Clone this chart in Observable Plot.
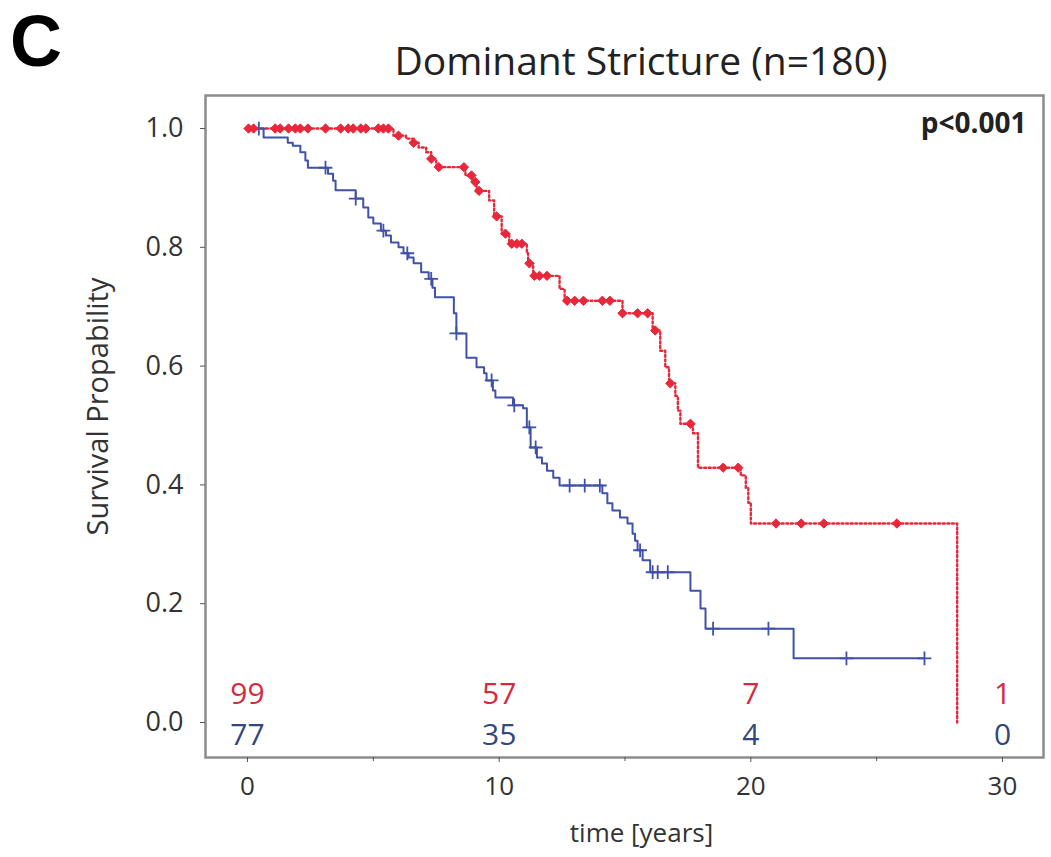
<!DOCTYPE html>
<html>
<head>
<meta charset="utf-8">
<script src="https://cdn.jsdelivr.net/npm/d3@7"></script>
<script src="https://cdn.jsdelivr.net/npm/@observablehq/plot@0.6"></script>
<style>
  html, body { margin: 0; padding: 0; background: #fff; }
  #wrap { width: 1051px; }
  #hdr { position: relative; height: 80px; width: 1051px; }
  #letter { position: absolute; left: 10px; top: 5px; font: bold 72px "Liberation Sans", Arial, sans-serif; line-height: 1; color: #000; }
  #title { position: absolute; left: 641px; top: 40px; transform: translateX(-50%); font: 39px "Open Sans", sans-serif; line-height: 1; color: #222; white-space: nowrap; }
  svg { display: block; }
</style>
</head>
<body>
<div id="wrap">
  <div id="hdr">
    <div id="letter">C</div>
    <div id="title">Dominant Stricture (n=180)</div>
  </div>
  <div id="chart"></div>
</div>
<script>
// Red group (dotted curve)
const redTime = [0, 5.8, 6.3, 6.6, 6.8, 7.1, 7.3, 7.5, 8.66, 8.95, 9.1, 9.6, 9.8, 10.1, 10.4, 11.1, 11.15, 11.35, 12.4, 12.6, 14.9, 16.1, 16.4, 16.6, 16.75, 17.0, 17.1, 17.2, 17.7, 17.9, 19.6, 19.8, 19.9, 20.0, 28.2];
const redSurv = [1.0, 0.988, 0.983, 0.976, 0.968, 0.96, 0.949, 0.935, 0.921, 0.91, 0.895, 0.879, 0.852, 0.823, 0.806, 0.79, 0.773, 0.752, 0.73, 0.71, 0.689, 0.66, 0.626, 0.598, 0.571, 0.55, 0.525, 0.503, 0.487, 0.429, 0.416, 0.395, 0.37, 0.335, 0.0];
const redCensor = [0.04, 0.24, 1.1, 1.3, 1.63, 1.9, 2.1, 2.4, 3.1, 3.7, 4.0, 4.2, 4.5, 4.7, 5.2, 5.4, 5.6, 6.0, 6.6, 7.3, 7.6, 8.6, 8.9, 9.05, 9.2, 9.9, 10.25, 10.5, 10.7, 10.9, 11.2, 11.4, 11.6, 11.9, 12.7, 13.0, 13.35, 14.1, 14.4, 14.9, 15.5, 15.9, 16.2, 16.8, 17.6, 18.9, 19.5, 21.0, 22.0, 22.9, 25.8];

// Blue group (solid curve)
const blueTime = [0, 0.64, 1.6, 1.8, 2.1, 2.3, 2.4, 3.2, 3.4, 3.5, 4.3, 4.6, 4.8, 5.0, 5.3, 5.5, 5.7, 6.0, 6.2, 6.4, 6.6, 6.9, 7.2, 7.35, 7.45, 8.2, 8.3, 8.7, 9.1, 9.4, 9.5, 9.75, 9.85, 10.55, 10.95, 11.1, 11.25, 11.5, 11.7, 11.9, 12.15, 12.4, 14.1, 14.3, 14.5, 14.8, 15.1, 15.3, 15.4, 15.5, 15.7, 16.0, 17.6, 18.0, 18.2, 21.7, 26.9];
const blueSurv = [1.0, 0.985, 0.976, 0.971, 0.96, 0.946, 0.934, 0.924, 0.912, 0.896, 0.882, 0.867, 0.85, 0.84, 0.828, 0.82, 0.808, 0.8, 0.79, 0.783, 0.773, 0.758, 0.747, 0.732, 0.716, 0.689, 0.655, 0.614, 0.598, 0.588, 0.576, 0.559, 0.547, 0.534, 0.529, 0.497, 0.463, 0.446, 0.436, 0.424, 0.412, 0.399, 0.386, 0.369, 0.357, 0.345, 0.335, 0.318, 0.306, 0.29, 0.273, 0.253, 0.222, 0.192, 0.158, 0.108, 0.108];
const blueCensor = [0.45, 3.1, 4.3, 5.4, 6.35, 7.3, 8.3, 9.7, 10.6, 11.2, 11.45, 12.8, 13.4, 14.0, 15.6, 16.1, 16.3, 16.7, 18.5, 20.7, 23.8, 26.9];

// Numbers at risk
const riskTimes = [0, 10, 20, 30];
const redRisk = [99, 57, 7, 1];
const blueRisk = [77, 35, 4, 0];

const xTicks = [0, 10, 20, 30];
const xMinorTicks = [5, 15, 25];
const yTicks = [0, 0.2, 0.4, 0.6, 0.8, 1.0];

const RED = "#e8283a", BLUE = "#3f51a8";
const RED_TXT = "#d42a3e", BLUE_TXT = "#34477a";

function stepAt(times, surv, t) {
  let v = surv[0];
  for (let i = 0; i < times.length; i++) if (times[i] <= t) v = surv[i];
  return v;
}

const redLine = redTime.map((t, i) => ({t, s: redSurv[i]}));
const blueLine = blueTime.map((t, i) => ({t, s: blueSurv[i]}));
const redMarks = redCensor.map(t => ({t, s: stepAt(redTime, redSurv, t)}));
const blueMarks = blueCensor.map(t => ({t, s: stepAt(blueTime, blueSurv, t)}));
const risk = riskTimes.flatMap((t, i) => [
  {t, v: redRisk[i], g: "red"},
  {t, v: blueRisk[i], g: "blue"}
]);

const font = "Open Sans, sans-serif";

const chart = Plot.plot({
  width: 1051,
  height: 777,
  marginTop: 15,
  marginBottom: 100,
  marginLeft: 205,
  marginRight: 8,
  style: {fontFamily: font, background: "#fff", color: "#333"},
  x: {domain: [-1.669, 31.63]},
  y: {domain: [-0.0589, 1.0556]},
  marks: [
    Plot.frame({stroke: "#8c8c8c", strokeWidth: 2.5}),
    Plot.axisX({ticks: xTicks, tickSize: 5, tickPadding: 14, fontSize: 26, label: null, stroke: "#555"}),
    Plot.axisX({ticks: xMinorTicks, tickSize: 4, tickFormat: () => "", label: null, stroke: "#555"}),
    Plot.axisY({ticks: yTicks, tickSize: 5, tickPadding: 17, fontSize: 27, tickFormat: d3.format(".1f"), label: null, stroke: "#555"}),
    Plot.line(blueLine, {x: "t", y: "s", curve: "step-after", stroke: BLUE, strokeWidth: 2}),
    Plot.line(redLine, {x: "t", y: "s", curve: "step-after", stroke: RED, strokeWidth: 2.4, strokeDasharray: "2,2.6"}),
    Plot.dot(blueMarks, {x: "t", y: "s", symbol: "plus", r: 4.5, stroke: BLUE, strokeWidth: 1.8}),
    Plot.dot(redMarks, {x: "t", y: "s", symbol: "diamond2", r: 4.2, fill: RED, stroke: RED, strokeWidth: 1}),
    Plot.text(risk.filter(d => d.g === "red"), {x: "t", y: () => 0.047, text: "v", fill: RED_TXT, fontSize: 30}),
    Plot.text(risk.filter(d => d.g === "blue"), {x: "t", y: () => -0.022, text: "v", fill: BLUE_TXT, fontSize: 30}),
    Plot.text(["p<0.001"], {frameAnchor: "top-right", dx: -17, dy: 29, lineAnchor: "middle", fontSize: 28, fontWeight: "bold", fill: "#222"}),
    Plot.text(["time [years]"], {frameAnchor: "bottom", dx: 17, dy: 76, lineAnchor: "middle", fontSize: 26, fill: "#333"}),
    Plot.text(["Survival Propability"], {frameAnchor: "left", textAnchor: "middle", dx: -107, dy: -20, rotate: -90, lineAnchor: "middle", fontSize: 29, fill: "#333"})
  ]
});
document.getElementById("chart").appendChild(chart);
</script>
</body>
</html>
